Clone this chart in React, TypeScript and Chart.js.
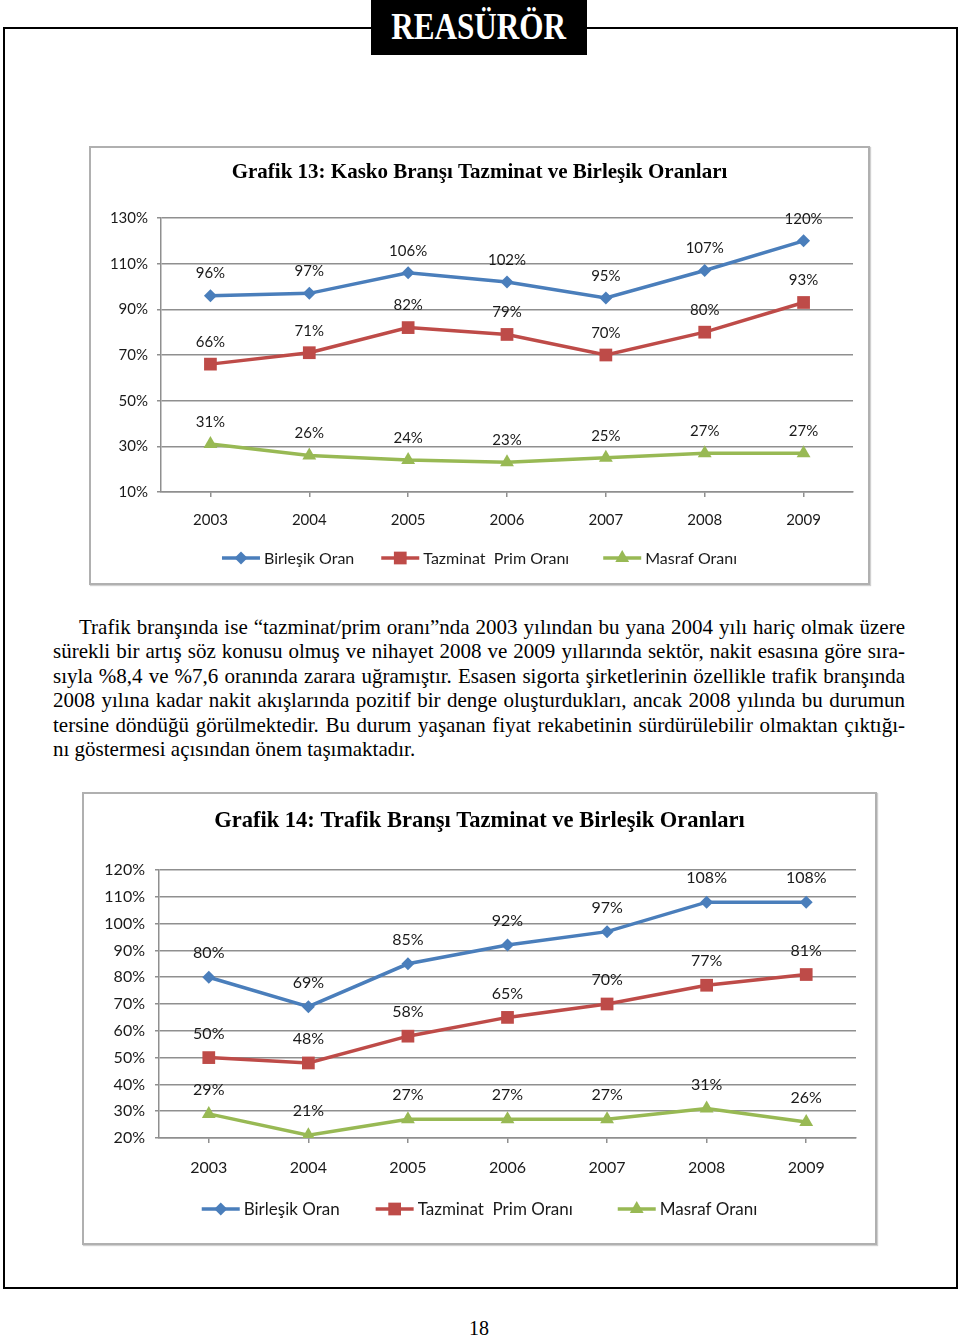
import React, { useEffect, useRef } from "react";
import { Chart, registerables } from "chart.js";

Chart.register(...registerables);

// ---------- DATA ----------
const years = ["2003", "2004", "2005", "2006", "2007", "2008", "2009"];

const kaskoBirlesik = [96, 97, 106, 102, 95, 107, 120];
const kaskoTazminat = [66, 71, 82, 79, 70, 80, 93];
const kaskoMasraf = [31, 26, 24, 23, 25, 27, 27];

const trafikBirlesik = [80, 69, 85, 92, 97, 108, 108];
const trafikTazminat = [50, 48, 58, 65, 70, 77, 81];
const trafikMasraf = [29, 21, 27, 27, 27, 31, 26];

const seriesNames = ["Birleşik Oran", "Tazminat  Prim Oranı", "Masraf Oranı"];

const title13 = "Grafik 13: Kasko Branşı Tazminat ve Birleşik Oranları";
const title14 = "Grafik 14: Trafik Branşı Tazminat ve Birleşik Oranları";

const bodyLines = [
  "Trafik branşında ise “tazminat/prim oranı”nda 2003 yılından bu yana 2004 yılı hariç olmak üzere",
  "sürekli bir artış söz konusu olmuş ve nihayet 2008 ve 2009 yıllarında sektör, nakit esasına göre sıra-",
  "sıyla %8,4 ve %7,6 oranında zarara uğramıştır. Esasen sigorta şirketlerinin özellikle trafik branşında",
  "2008 yılına kadar nakit akışlarında pozitif bir denge oluşturdukları, ancak 2008 yılında bu durumun",
  "tersine döndüğü görülmektedir. Bu durum yaşanan fiyat rekabetinin sürdürülebilir olmaktan çıktığı-",
  "nı göstermesi açısından önem taşımaktadır.",
];

// ---------- STYLE ----------
const COLORS = ["#4A7EBB", "#BE4B48", "#98B954"];
const STYLES = ["rectRot", "rect", "triangle"];
const RADII = [6.5, 9, 8];
const SANS = "Lato, 'Open Sans', sans-serif";
const SERIF = "'Liberation Serif', 'Times New Roman', serif";

function drawMarker(ctx: CanvasRenderingContext2D, style: string, x: number, y: number, r: number, color: string) {
  ctx.save();
  ctx.fillStyle = color;
  ctx.beginPath();
  if (style === "rectRot") {
    ctx.moveTo(x, y - r);
    ctx.lineTo(x + r, y);
    ctx.lineTo(x, y + r);
    ctx.lineTo(x - r, y);
  } else if (style === "rect") {
    const s = r * Math.SQRT1_2;
    ctx.rect(x - s, y - s, 2 * s, 2 * s);
  } else {
    const a = Math.sin((2 * Math.PI) / 3) * r;
    ctx.moveTo(x, y - r);
    ctx.lineTo(x + a, y + r * 0.5);
    ctx.lineTo(x - a, y + r * 0.5);
  }
  ctx.closePath();
  ctx.fill();
  ctx.restore();
}

const pctLabelPlugin = {
  id: "pctLabels",
  afterDatasetsDraw(chart: any, _args: any, opts: any) {
    const ctx = chart.ctx as CanvasRenderingContext2D;
    ctx.save();
    ctx.font = `${opts.size}px ${SANS}`;
    ctx.fillStyle = "#1a1a1a";
    ctx.textAlign = "center";
    ctx.textBaseline = "middle";
    chart.data.datasets.forEach((ds: any, i: number) => {
      const meta = chart.getDatasetMeta(i);
      meta.data.forEach((pt: any, j: number) => {
        ctx.fillText(ds.data[j] + "%", pt.x, pt.y - opts.offset);
      });
    });
    ctx.restore();
  },
};

const lineLegendPlugin = {
  id: "lineLegend",
  afterDraw(chart: any, _args: any, opts: any) {
    const ctx = chart.ctx as CanvasRenderingContext2D;
    ctx.save();
    ctx.font = `${opts.size}px ${SANS}`;
    const lineLen = 38;
    const textGap = opts.textGap;
    const gaps: number[] = opts.gaps;
    const items = chart.data.datasets.map((ds: any) => ds.label as string);
    const widths = items.map((t: string) => lineLen + textGap + ctx.measureText(t).width);
    const total = widths.reduce((a: number, b: number) => a + b, 0) + gaps.reduce((a, b) => a + b, 0);
    let x = (chart.width - total) / 2;
    const y = chart.chartArea.bottom + opts.offset;
    items.forEach((t: string, i: number) => {
      ctx.strokeStyle = COLORS[i];
      ctx.lineWidth = 3.5;
      ctx.beginPath();
      ctx.moveTo(x, y);
      ctx.lineTo(x + lineLen, y);
      ctx.stroke();
      drawMarker(ctx, STYLES[i], x + lineLen / 2, y, RADII[i], COLORS[i]);
      ctx.fillStyle = "#1a1a1a";
      ctx.textAlign = "left";
      ctx.textBaseline = "middle";
      ctx.fillText(t, x + lineLen + textGap, y + 1);
      x += widths[i] + (gaps[i] || 0);
    });
    ctx.restore();
  },
};

type ChartProps = {
  left: number;
  top: number;
  width: number;
  height: number;
  title: string;
  titleSize: number;
  titlePadTop: number;
  titlePadBottom: number;
  series: number[][];
  yMin: number;
  yMax: number;
  yStep: number;
  plotLeft: number;
  yTickPad: number;
  xAxisHeight: number;
  xTickPad: number;
  padSide: number;
  padBottom: number;
  fontSize: number;
  legendSize: number;
  labelOffset: number;
  legendOffset: number;
  legendGaps: number[];
  legendTextGap: number;
};

function LineChartBox(p: ChartProps) {
  const ref = useRef<HTMLCanvasElement | null>(null);
  useEffect(() => {
    if (!ref.current) return;
    const chart = new Chart(ref.current, {
      type: "line",
      data: {
        labels: years,
        datasets: p.series.map((vals, i) => ({
          label: seriesNames[i],
          data: vals,
          borderColor: COLORS[i],
          backgroundColor: COLORS[i],
          borderWidth: 3.5,
          pointStyle: STYLES[i] as any,
          pointRadius: RADII[i],
          pointBorderWidth: 0,
          pointBackgroundColor: COLORS[i],
          pointBorderColor: COLORS[i],
          tension: 0,
          fill: false,
        })),
      },
      options: {
        animation: false,
        responsive: false,
        devicePixelRatio: 1,
        layout: { padding: { left: p.padSide, right: p.padSide, top: 0, bottom: p.padBottom } },
        plugins: {
          legend: { display: false },
          tooltip: { enabled: false },
          title: {
            display: true,
            text: p.title,
            color: "#000",
            font: { family: SERIF, size: p.titleSize, weight: "bold", lineHeight: 1.2 },
            padding: { top: p.titlePadTop, bottom: p.titlePadBottom },
          },
          pctLabels: { size: p.fontSize, offset: p.labelOffset },
          lineLegend: { size: p.legendSize, offset: p.legendOffset, gaps: p.legendGaps, textGap: p.legendTextGap },
        } as any,
        scales: {
          x: {
            type: "category",
            offset: true,
            grid: {
              display: true,
              drawOnChartArea: false,
              drawTicks: true,
              tickLength: 5,
              color: "#8f8f8f",
              lineWidth: 1.5,
              offset: false,
            },
            border: { display: true, color: "#8f8f8f", width: 1.5 },
            ticks: {
              color: "#1a1a1a",
              font: { family: SANS, size: p.fontSize },
              padding: p.xTickPad,
              maxRotation: 0,
            },
            afterFit: (scale: any) => {
              scale.height = p.xAxisHeight;
            },
          },
          y: {
            min: p.yMin,
            max: p.yMax,
            grid: { color: "#8f8f8f", lineWidth: 1.5, tickLength: 4, drawTicks: true },
            border: { display: true, color: "#8f8f8f", width: 1.5 },
            ticks: {
              stepSize: p.yStep,
              color: "#1a1a1a",
              font: { family: SANS, size: p.fontSize },
              padding: p.yTickPad,
              callback: (v: any) => v + "%",
            },
            afterFit: (scale: any) => {
              scale.width = p.plotLeft - p.padSide;
            },
          },
        },
      },
      plugins: [pctLabelPlugin as any, lineLegendPlugin as any],
    });
    return () => chart.destroy();
  }, []);
  return (
    <div
      style={{
        position: "absolute",
        left: p.left - 1,
        top: p.top - 1,
        width: p.width,
        height: p.height,
        border: "2px solid #b0b0b0",
        boxShadow: "1px 1px 1px #d0d0d0",
        background: "#fff",
      }}
    >
      <canvas ref={ref} width={p.width} height={p.height} style={{ display: "block", width: p.width, height: p.height }} />
    </div>
  );
}

export default function App() {
  return (
    <div style={{ position: "absolute", left: 0, top: 0, width: 960, height: 1337, background: "#fff", overflow: "hidden" }}>
      {/* page frame */}
      <div
        style={{
          position: "absolute",
          left: 3,
          top: 27,
          width: 955,
          height: 1262,
          border: "2px solid #000",
          boxSizing: "border-box",
        }}
      />
      {/* header */}
      <div
        style={{
          position: "absolute",
          left: 371,
          top: 0,
          width: 216,
          height: 55,
          background: "#000",
          display: "flex",
          alignItems: "center",
          justifyContent: "center",
        }}
      >
        <span
          style={{
            color: "#fff",
            fontFamily: SERIF,
            fontWeight: "bold",
            fontSize: 38,
            lineHeight: 1,
            display: "inline-block",
            transform: "scaleX(0.82)",
            marginTop: -4,
          }}
        >
          REASÜRÖR
        </span>
      </div>

      <LineChartBox
        left={90}
        top={147}
        width={777}
        height={435}
        title={title13}
        titleSize={21}
        titlePadTop={12}
        titlePadBottom={32.8}
        series={[kaskoBirlesik, kaskoTazminat, kaskoMasraf]}
        yMin={10}
        yMax={130}
        yStep={20}
        plotLeft={70}
        yTickPad={9}
        xAxisHeight={50}
        xTickPad={14}
        padSide={15}
        padBottom={41}
        fontSize={15}
        legendSize={16}
        labelOffset={22}
        legendOffset={66}
        legendGaps={[27, 34]}
        legendTextGap={4}
      />

      {/* body text */}
      <div style={{ position: "absolute", left: 53, top: 615, width: 852, fontFamily: SERIF, fontSize: 21, color: "#000" }}>
        {bodyLines.map((ln, i) => (
          <div
            key={i}
            style={{
              height: 24.4,
              lineHeight: "24.4px",
              whiteSpace: "nowrap",
              textAlign: i === bodyLines.length - 1 ? "left" : "justify",
              textAlignLast: i === bodyLines.length - 1 ? "left" : "justify",
              paddingLeft: i === 0 ? 26 : 0,
            } as any}
          >
            {ln}
          </div>
        ))}
      </div>

      <LineChartBox
        left={83}
        top={793}
        width={791}
        height={449}
        title={title14}
        titleSize={22.5}
        titlePadTop={13.5}
        titlePadBottom={35.5}
        series={[trafikBirlesik, trafikTazminat, trafikMasraf]}
        yMin={20}
        yMax={120}
        yStep={10}
        plotLeft={75}
        yTickPad={10}
        xAxisHeight={55}
        xTickPad={15}
        padSide={19}
        padBottom={50}
        fontSize={16}
        legendSize={17}
        labelOffset={24}
        legendOffset={71}
        legendGaps={[36, 45]}
        legendTextGap={4}
      />

      {/* page number */}
      <div
        style={{
          position: "absolute",
          left: 0,
          width: 958,
          top: 1316,
          textAlign: "center",
          fontFamily: SERIF,
          fontSize: 20,
          lineHeight: "24px",
        }}
      >
        18
      </div>
    </div>
  );
}
